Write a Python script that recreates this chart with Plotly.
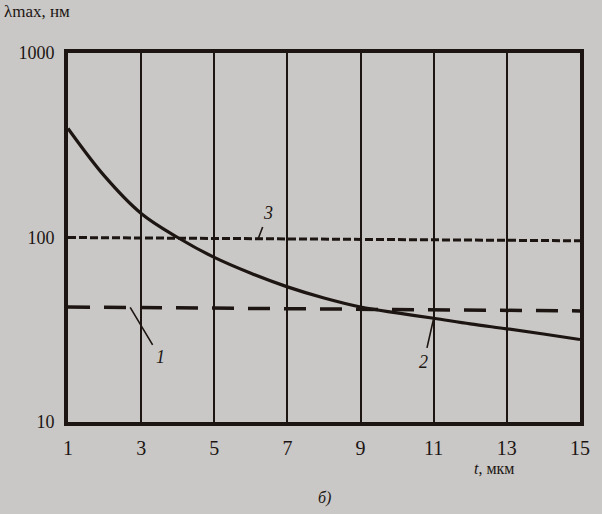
import math
import plotly.graph_objects as go

# Data
t_values = [1, 2, 3, 4, 5, 6, 7, 8, 9, 10, 11, 12, 13, 14, 15]
curve2 = [390, 215, 135, 100, 78, 64, 54, 47, 42, 39, 36.5, 34, 32, 30, 28]
line1_t = [1, 15]
line1 = [42, 40]
line3_t = [1, 15]
line3 = [100, 96]
x_ticks = [1, 3, 5, 7, 9, 11, 13, 15]
y_ticks = [10, 100, 1000]

ink = "#1c1512"
bg = "#c9c8c6"
serif = "Liberation Serif, DejaVu Serif, serif"

fig = go.Figure()
fig.add_trace(go.Scatter(x=line3_t, y=line3, mode="lines",
                         line=dict(color=ink, width=3, dash="8px,3px"), showlegend=False))
fig.add_trace(go.Scatter(x=line1_t, y=line1, mode="lines",
                         line=dict(color=ink, width=3.5, dash="22px,14px"), showlegend=False))
fig.add_trace(go.Scatter(x=t_values, y=curve2, mode="lines", line_shape="spline",
                         line=dict(color=ink, width=3.2), showlegend=False))

# curve labels with leader lines (log axis -> annotation y in log10 units)
labels = [("3", 6.2, 98.5, 10, -26), ("1", 2.7, 41.8, 30, 50), ("2", 11.0, 36.5, -10, 44)]
for txt, x, y, ax, ay in labels:
    fig.add_annotation(x=x, y=math.log10(y), xref="x", yref="y", text="<i>%s</i>" % txt,
                       showarrow=True, arrowhead=0, arrowwidth=1.6, arrowcolor=ink,
                       ax=ax, ay=ay, standoff=0, startstandoff=3,
                       font=dict(family=serif, size=18, color=ink))

fig.add_annotation(x=0.0, y=1.0, xref="paper", yref="paper", xshift=-66, yshift=42,
                   text="λmax, нм", showarrow=False, xanchor="left", yanchor="middle",
                   font=dict(family=serif, size=17, color=ink))
fig.add_annotation(x=0.79, y=0, xref="paper", yref="paper", yshift=-46,
                   text="<i>t</i>, мкм", showarrow=False, xanchor="left", yanchor="middle",
                   font=dict(family=serif, size=16, color=ink))
fig.add_annotation(x=0.5, y=0, xref="paper", yref="paper", yshift=-76,
                   text="<i>б)</i>", showarrow=False, xanchor="center", yanchor="middle",
                   font=dict(family=serif, size=16, color=ink))

fig.update_layout(
    width=602, height=514,
    margin=dict(l=68, r=20, t=53, b=92),
    paper_bgcolor=bg, plot_bgcolor=bg,
    showlegend=False,
    xaxis=dict(range=[1, 15], tickvals=x_ticks, ticktext=[str(v) for v in x_ticks],
               showgrid=True, gridcolor=ink, gridwidth=2, zeroline=False,
               showline=True, linecolor=ink, linewidth=4, mirror=True,
               ticks="", ticklabelstandoff=5,
               tickfont=dict(family=serif, size=20, color=ink)),
    yaxis=dict(type="log", range=[1, 3], tickvals=y_ticks, ticktext=[str(v) for v in y_ticks],
               showgrid=False, zeroline=False,
               showline=True, linecolor=ink, linewidth=4, mirror=True,
               ticks="", ticklabelstandoff=6,
               tickfont=dict(family=serif, size=18, color=ink)),
)

fig.write_html("out.html", config={"displayModeBar": False},
               post_script="document.body.style.margin='0';document.body.style.background='%s';" % bg)
